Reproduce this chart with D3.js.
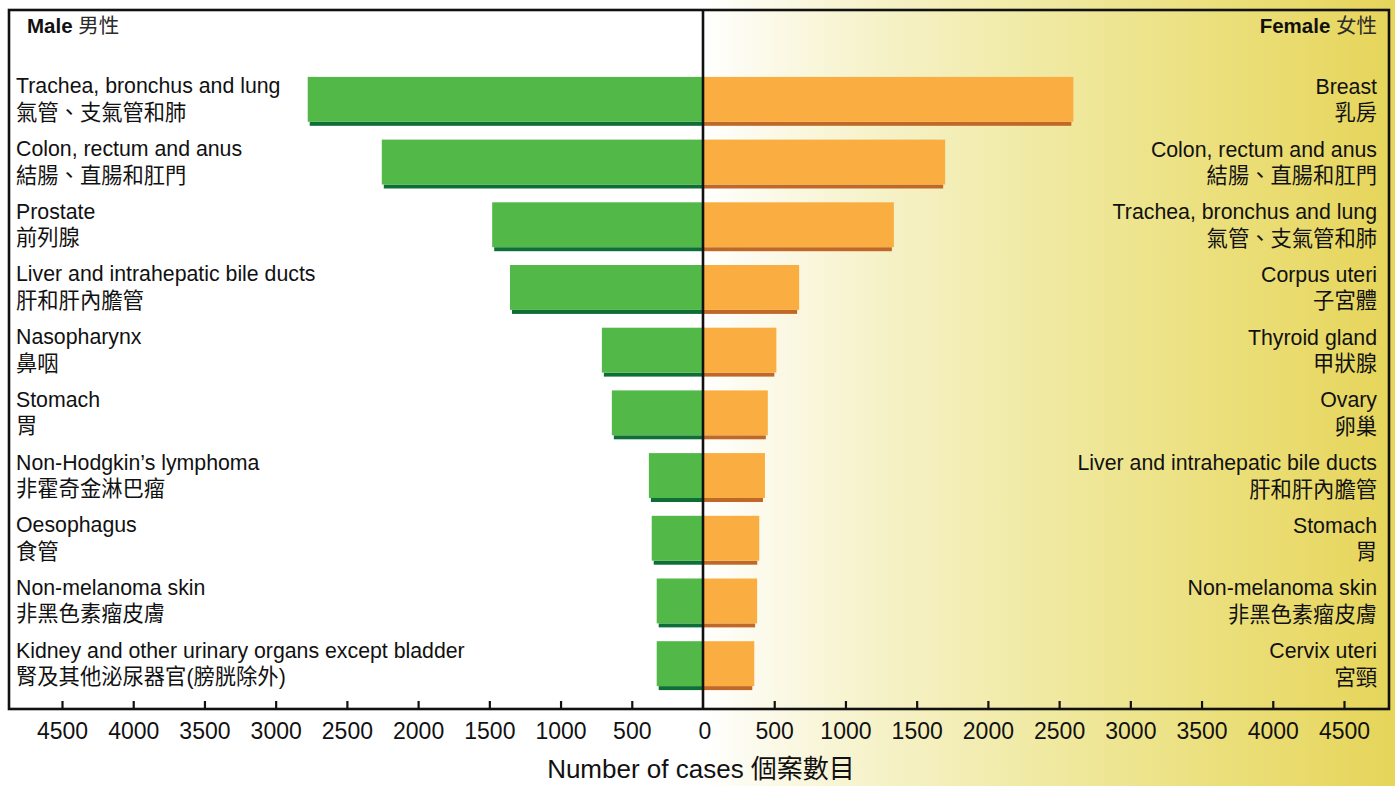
<!DOCTYPE html>
<html>
<head>
<meta charset="utf-8">
<script src="https://cdn.jsdelivr.net/npm/d3@7/dist/d3.min.js"></script>
<style>
  html, body { margin: 0; padding: 0; background: #ffffff; }
  svg { display: block; }
  text { font-family: "Liberation Sans", Arial, "Noto Sans CJK TC", sans-serif; fill: #111; }
</style>
</head>
<body>
<svg id="chart" width="1395" height="786"></svg>
<script>
// Ten most common cancer sites by number of new cases, male vs female
const maleSitesEn = [
  "Trachea, bronchus and lung", "Colon, rectum and anus", "Prostate",
  "Liver and intrahepatic bile ducts", "Nasopharynx", "Stomach",
  "Non-Hodgkin\u2019s lymphoma", "Oesophagus", "Non-melanoma skin",
  "Kidney and other urinary organs except bladder"
];
const maleSitesZh = [
  "氣管、支氣管和肺", "結腸、直腸和肛門", "前列腺", "肝和肝內膽管", "鼻咽",
  "胃", "非霍奇金淋巴瘤", "食管", "非黑色素瘤皮膚", "腎及其他泌尿器官(膀胱除外)"
];
const maleCases = [2775, 2255, 1480, 1355, 710, 640, 380, 360, 325, 325];

const femaleSitesEn = [
  "Breast", "Colon, rectum and anus", "Trachea, bronchus and lung",
  "Corpus uteri", "Thyroid gland", "Ovary", "Liver and intrahepatic bile ducts",
  "Stomach", "Non-melanoma skin", "Cervix uteri"
];
const femaleSitesZh = [
  "乳房", "結腸、直腸和肛門", "氣管、支氣管和肺", "子宮體", "甲狀腺",
  "卵巢", "肝和肝內膽管", "胃", "非黑色素瘤皮膚", "宮頸"
];
const femaleCases = [2600, 1700, 1340, 675, 515, 455, 435, 395, 380, 360];

const tickValues = [500, 1000, 1500, 2000, 2500, 3000, 3500, 4000, 4500];
const axisMax = 4500;

const svg = d3.select("#chart");
const W = 1395, H = 786;

// frame geometry
const frame = { left: 9, right: 1389, top: 10, bottom: 709 };
const cx = 703;           // zero line
const halfSpan = 641;     // pixels for 4500 cases

const xMale = d3.scaleLinear().domain([0, axisMax]).range([cx, cx - halfSpan]);
const xFemale = d3.scaleLinear().domain([0, axisMax]).range([cx, cx + halfSpan]);

const y = d3.scaleBand()
  .domain(d3.range(maleCases.length))
  .range([70, 697])
  .paddingInner(0.22)
  .paddingOuter(0.11);

const shadowH = 4;
const barH = y.bandwidth() - shadowH;

// background: white on the male side, warm yellow gradient on the female side
const defs = svg.append("defs");
const grad = defs.append("linearGradient")
  .attr("id", "femaleBg")
  .attr("gradientUnits", "userSpaceOnUse")
  .attr("x1", cx).attr("x2", W).attr("y1", 0).attr("y2", 0);
[
  [0, "#ffffff"], [0.1, "#fbf9e7"], [0.25, "#f6f2c9"],
  [0.5, "#f0e9a1"], [0.75, "#ebdf7b"], [1, "#e6d55a"]
].forEach(([o, c]) => grad.append("stop").attr("offset", o).attr("stop-color", c));

svg.append("rect").attr("x", 0).attr("y", 0).attr("width", W).attr("height", H).attr("fill", "#ffffff");
svg.append("rect").attr("x", cx).attr("y", 0).attr("width", W - cx).attr("height", H)
  .attr("fill", "url(#femaleBg)");

const colors = {
  male: "#52b948", maleShadow: "#0e6e38",
  female: "#faae42", femaleShadow: "#c06828"
};

// male bars (extend left from the zero line)
const gMale = svg.append("g");
gMale.selectAll("rect.shadow").data(maleCases).join("rect")
  .attr("class", "shadow")
  .attr("x", d => xMale(d) + 2)
  .attr("y", (d, i) => y(i) + barH)
  .attr("width", d => cx - xMale(d) - 2)
  .attr("height", shadowH)
  .attr("fill", colors.maleShadow);
gMale.selectAll("rect.bar").data(maleCases).join("rect")
  .attr("class", "bar")
  .attr("x", d => xMale(d))
  .attr("y", (d, i) => y(i))
  .attr("width", d => cx - xMale(d))
  .attr("height", barH)
  .attr("fill", colors.male);

// female bars (extend right from the zero line)
const gFemale = svg.append("g");
gFemale.selectAll("rect.shadow").data(femaleCases).join("rect")
  .attr("class", "shadow")
  .attr("x", cx)
  .attr("y", (d, i) => y(i) + barH)
  .attr("width", d => xFemale(d) - cx - 2)
  .attr("height", shadowH)
  .attr("fill", colors.femaleShadow);
gFemale.selectAll("rect.bar").data(femaleCases).join("rect")
  .attr("class", "bar")
  .attr("x", cx)
  .attr("y", (d, i) => y(i))
  .attr("width", d => xFemale(d) - cx)
  .attr("height", barH)
  .attr("fill", colors.female);

// site labels
const labelSize = 21.3;
const maleLabels = svg.append("g").attr("font-size", labelSize);
maleSitesEn.forEach((t, i) => {
  maleLabels.append("text").attr("x", 16).attr("y", y(i) + 16.5).text(t);
  maleLabels.append("text").attr("x", 16).attr("y", y(i) + 43).attr("fill", "#2b2b2b").text(maleSitesZh[i]);
});
const femaleLabels = svg.append("g").attr("font-size", labelSize).attr("text-anchor", "end");
femaleSitesEn.forEach((t, i) => {
  femaleLabels.append("text").attr("x", 1377).attr("y", y(i) + 17).text(t);
  femaleLabels.append("text").attr("x", 1377).attr("y", y(i) + 43.5).attr("fill", "#2b2b2b").text(femaleSitesZh[i]);
});

// panel headers
const maleHead = svg.append("text").attr("x", 27).attr("y", 33).attr("font-size", 20.5);
maleHead.append("tspan").attr("font-weight", "bold").text("Male");
maleHead.append("tspan").attr("fill", "#2b2b2b").text(" 男性");
const femaleHead = svg.append("text").attr("x", 1377).attr("y", 33).attr("font-size", 20.5)
  .attr("text-anchor", "end");
femaleHead.append("tspan").attr("font-weight", "bold").text("Female");
femaleHead.append("tspan").attr("fill", "#2b2b2b").text(" 女性");

// axes along the bottom of the frame, ticks pointing inward
function styleAxis(g) {
  g.select(".domain").remove();
  g.selectAll(".tick line").attr("stroke", "#111").attr("stroke-width", 2.2);
  g.selectAll(".tick text")
    .attr("font-size", 23)
    .attr("font-family", "\"Liberation Sans\", Arial, sans-serif")
    .attr("fill", "#111");
}
svg.append("g")
  .attr("transform", `translate(0,${frame.bottom})`)
  .call(d3.axisBottom(xMale).tickValues(tickValues).tickFormat(d3.format("d"))
    .tickSizeInner(-8).tickSizeOuter(0).tickPadding(14))
  .call(styleAxis);
svg.append("g")
  .attr("transform", `translate(0,${frame.bottom})`)
  .call(d3.axisBottom(xFemale).tickValues([0].concat(tickValues)).tickFormat(d3.format("d"))
    .tickSizeInner(-8).tickSizeOuter(0).tickPadding(14))
  .call(styleAxis)
  .call(g => g.selectAll(".tick").filter(d => d === 0).select("line").remove())
  .call(g => g.selectAll(".tick").filter(d => d === 0).select("text").attr("x", 1.5));

// frame and zero line
svg.append("rect")
  .attr("x", frame.left).attr("y", frame.top)
  .attr("width", frame.right - frame.left).attr("height", frame.bottom - frame.top)
  .attr("fill", "none").attr("stroke", "#111").attr("stroke-width", 2.6);
svg.append("line")
  .attr("x1", cx).attr("x2", cx).attr("y1", frame.top).attr("y2", frame.bottom)
  .attr("stroke", "#111").attr("stroke-width", 2.6);

// axis title
svg.append("text")
  .attr("x", 701).attr("y", 778)
  .attr("text-anchor", "middle")
  .attr("font-size", 26)
  .text("Number of cases 個案數目");
</script>
</body>
</html>
